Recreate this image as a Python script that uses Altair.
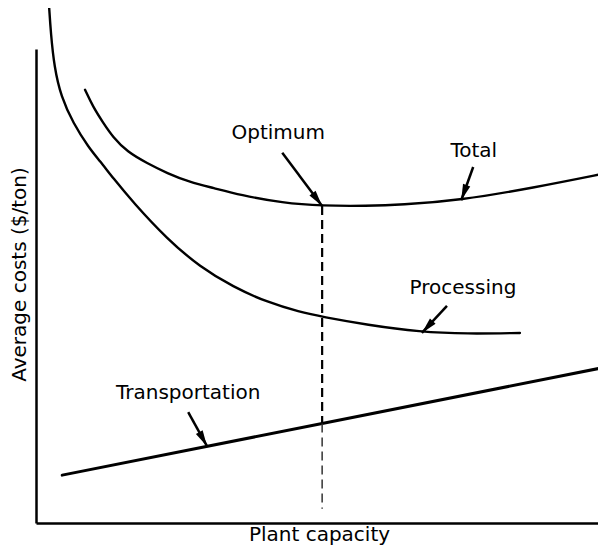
import math
import altair as alt
import pandas as pd

# ---- data (conceptual units: capacity 0-100, cost 0-100) ----
proc_x = [2.3, 2.6, 3.2, 4.4, 6.5, 9.3, 11.2, 13.5, 17.0, 23.0, 28.8, 34.6, 40.5, 46.3, 50.2, 58.1, 67.4, 75.6, 84.9]
proc_y = [108.9, 103.4, 96.2, 89.9, 84.4, 79.1, 76.4, 72.8, 67.7, 59.9, 54.0, 49.8, 46.6, 44.5, 43.5, 41.8, 40.3, 39.9, 40.1]

total_x = [8.6, 10.0, 11.8, 13.5, 16.0, 19.5, 23.0, 27.0, 31.1, 35.8, 43.3, 50.2, 58.1, 63.9, 74.4, 87.2, 100.0]
total_y = [91.4, 87.8, 84.4, 81.4, 78.3, 75.9, 73.8, 71.9, 70.7, 69.2, 67.5, 66.9, 66.9, 67.1, 68.1, 70.7, 73.8]

trans_x = [4.6, 50.2, 100.0]
trans_y = [10.1, 21.0, 32.9]

optimum_x = 50.2
optimum_y = [66.9, 21.0, 3.0]

labels = ["Optimum", "Total", "Processing", "Transportation"]
label_x = [42.5, 76.8, 74.9, 26.7]
label_y = [81.0, 77.2, 48.3, 26.2]
arrow_x0 = [43.2, 76.7, 72.1, 26.7]
arrow_y0 = [78.1, 75.1, 45.8, 23.4]
arrow_x1 = [50.2, 74.6, 67.7, 30.0]
arrow_y1 = [66.9, 68.1, 40.1, 16.2]

PX_PER_X = 5.7     # pixels per capacity unit
PX_PER_Y = 4.74    # pixels per cost unit
W, H = 562, 474
X_MAX = W / PX_PER_X
FONT = "DejaVu Sans"

# ---- build tables ----
curves = pd.DataFrame(
    [{"series": "Processing", "x": a, "y": b, "o": i} for i, (a, b) in enumerate(zip(proc_x, proc_y))]
    + [{"series": "Total", "x": a, "y": b, "o": i} for i, (a, b) in enumerate(zip(total_x, total_y))]
)
trans = pd.DataFrame({"x": trans_x, "y": trans_y})

angles = []
for x0, y0, x1, y1 in zip(arrow_x0, arrow_y0, arrow_x1, arrow_y1):
    dx = (x1 - x0) * PX_PER_X
    dy = -(y1 - y0) * PX_PER_Y
    angles.append(math.degrees(math.atan2(dx, -dy)) % 360)
arrows = pd.DataFrame({"x0": arrow_x0, "y0": arrow_y0, "x1": arrow_x1, "y1": arrow_y1, "angle": angles})
texts = pd.DataFrame({"label": labels, "x": label_x, "y": label_y})
opt_upper = pd.DataFrame({"x": [optimum_x], "y": [optimum_y[0]], "y2": [optimum_y[1]]})
opt_lower = pd.DataFrame({"x": [optimum_x], "y": [optimum_y[1]], "y2": [optimum_y[2]]})

xscale = alt.Scale(domain=[0, X_MAX], nice=False, zero=False)
yscale = alt.Scale(domain=[0, 100], nice=False, zero=False)
xaxis = alt.Axis(title="Plant capacity", domain=True, domainColor="black", domainWidth=2.5,
                 ticks=False, labels=False, grid=False,
                 titleFont=FONT, titleFontSize=20, titleFontWeight="normal", titleColor="black",
                 titleX=283, titleY=17, titleAlign="center", titleBaseline="alphabetic")
yaxis = alt.Axis(title="Average costs ($/ton)", domain=True, domainColor="black", domainWidth=2.5,
                 ticks=False, labels=False, grid=False,
                 titleFont=FONT, titleFontSize=20, titleFontWeight="normal", titleColor="black",
                 titleX=-11, titleY=225, titleAngle=270, titleAlign="center", titleBaseline="alphabetic")

X = lambda f: alt.X(f, scale=xscale, axis=xaxis)
Y = lambda f: alt.Y(f, scale=yscale, axis=yaxis)

curve_layer = alt.Chart(curves).mark_line(color="black", strokeWidth=2.4, interpolate="basis", strokeCap="round").encode(
    x=X("x:Q"), y=Y("y:Q"), detail="series:N", order="o:Q")

trans_layer = alt.Chart(trans).mark_line(color="black", strokeWidth=3, strokeCap="round").encode(
    x=X("x:Q"), y=Y("y:Q"))

opt1 = alt.Chart(opt_upper).mark_rule(color="black", strokeWidth=2.2, strokeDash=[9, 5]).encode(
    x=X("x:Q"), y=Y("y:Q"), y2="y2:Q")
opt2 = alt.Chart(opt_lower).mark_rule(color="#333333", strokeWidth=1.5, strokeDash=[9, 5]).encode(
    x=X("x:Q"), y=Y("y:Q"), y2="y2:Q")

shafts = alt.Chart(arrows).mark_rule(color="black", strokeWidth=2.5).encode(
    x=X("x0:Q"), y=Y("y0:Q"), x2="x1:Q", y2="y1:Q")

heads = alt.Chart(arrows).mark_point(
    shape="M0,0L0.24,1L-0.24,1Z", filled=True, size=1024, color="black", opacity=1, strokeWidth=0
).encode(x=X("x1:Q"), y=Y("y1:Q"), angle=alt.Angle("angle:Q", scale=None))

text_layer = alt.Chart(texts).mark_text(
    font=FONT, fontSize=20, color="black", align="center", baseline="alphabetic"
).encode(x=X("x:Q"), y=Y("y:Q"), text="label:N")

chart = alt.layer(curve_layer, trans_layer, opt1, opt2, shafts, heads, text_layer).properties(
    width=W, height=H,
    autosize=alt.AutoSizeParams(type="none"),
    padding={"left": 28, "top": 41, "right": 0, "bottom": 24},
).configure_view(stroke=None, strokeWidth=0)

chart.save("out.html", embed_options={"renderer": "svg", "actions": False})
